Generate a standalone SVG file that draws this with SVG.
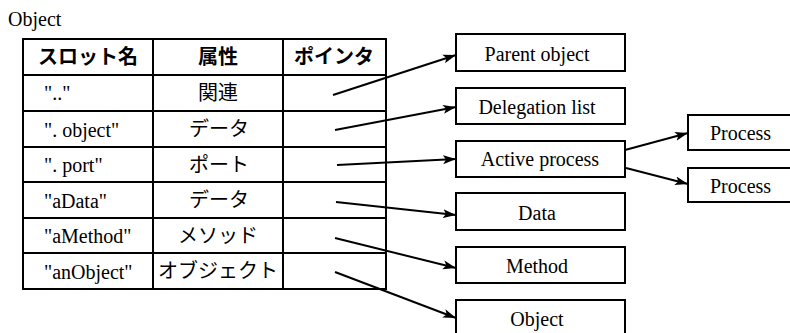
<svg xmlns="http://www.w3.org/2000/svg" width="790" height="333" viewBox="0 0 790 333">
<style>
.bg{fill:#fff}
.box{fill:#fff;stroke:#000;stroke-width:2}
.grid{stroke:#000;stroke-width:2;fill:none}
.en{font-family:"Liberation Serif","Times New Roman",serif;font-size:20px;fill:#000}
.jp{font-family:"Noto Sans CJK JP",sans-serif;font-size:20px;fill:#000}
.jh{font-family:"Noto Sans CJK JP",sans-serif;font-size:20px;font-weight:bold;fill:#000}
.c{text-anchor:middle}
.edge{stroke:#000;stroke-width:2;fill:none;marker-end:url(#ah)}
</style>
<defs>
<marker id="ah" markerUnits="userSpaceOnUse" markerWidth="14" markerHeight="10" viewBox="0 0 14 10" refX="13" refY="5" orient="auto">
<path d="M0,0.5 L13,5 L0,9.5 L3,5 Z" fill="#000"/>
</marker>
</defs>
<rect class="bg" x="0" y="0" width="790" height="333"/>
<text class="en" x="8" y="26" font-size="19">Object</text>
<g id="table">
<rect class="grid" x="23" y="39" width="363" height="250"/>
<path class="grid" d="M153,39 V289 M283,39 V289 M23,75 H386 M23,111 H386 M23,147 H386 M23,182 H386 M23,218 H386 M23,253 H386"/>
<text class="jh c" x="88" y="64">スロット名</text>
<text class="jh c" x="218" y="64">属性</text>
<text class="jh c" x="334" y="64">ポインタ</text>
<text class="en" x="44" y="100">".."</text>
<text class="en" x="44" y="137">". object"</text>
<text class="en" x="44" y="172">". port"</text>
<text class="en" x="44" y="208">"aData"</text>
<text class="en" x="44" y="243">"aMethod"</text>
<text class="en" x="44" y="279">"anObject"</text>
<text class="jp c" x="218" y="100">関連</text>
<text class="jp c" x="219" y="136">データ</text>
<text class="jp c" x="219" y="172">ポート</text>
<text class="jp c" x="219" y="207">データ</text>
<text class="jp c" x="218" y="243">メソッド</text>
<text class="jp c" x="218" y="278">オブジェクト</text>
</g>
<g id="parent"><rect class="box" x="456" y="34" width="169" height="37"/><text class="en c" x="537" y="61">Parent object</text></g>
<g id="delegation"><rect class="box" x="456" y="88" width="169" height="36"/><text class="en c" x="537" y="114">Delegation list</text></g>
<g id="active"><rect class="box" x="456" y="141" width="169" height="36"/><text class="en c" x="540" y="166">Active process</text></g>
<g id="data"><rect class="box" x="456" y="193" width="169" height="37"/><text class="en c" x="537" y="220">Data</text></g>
<g id="method"><rect class="box" x="456" y="247" width="169" height="36"/><text class="en c" x="537" y="273">Method</text></g>
<g id="object"><rect class="box" x="456" y="300" width="169" height="40"/><text class="en c" x="537" y="326">Object</text></g>
<g id="process1"><rect class="box" x="688" y="115" width="110" height="35"/><text class="en" x="710" y="140">Process</text></g>
<g id="process2"><rect class="box" x="688" y="168" width="110" height="34"/><text class="en" x="710" y="193">Process</text></g>
<g id="connectors">
<line class="edge" x1="333" y1="95" x2="456" y2="55"/>
<line class="edge" x1="335" y1="130" x2="456" y2="107"/>
<line class="edge" x1="337" y1="165" x2="456" y2="159"/>
<line class="edge" x1="336" y1="202" x2="456" y2="215"/>
<line class="edge" x1="335" y1="238" x2="456" y2="268"/>
<line class="edge" x1="335" y1="272" x2="456" y2="318"/>
<line class="edge" x1="625" y1="150" x2="688" y2="133"/>
<line class="edge" x1="626" y1="168" x2="688" y2="184"/>
</g>
</svg>
